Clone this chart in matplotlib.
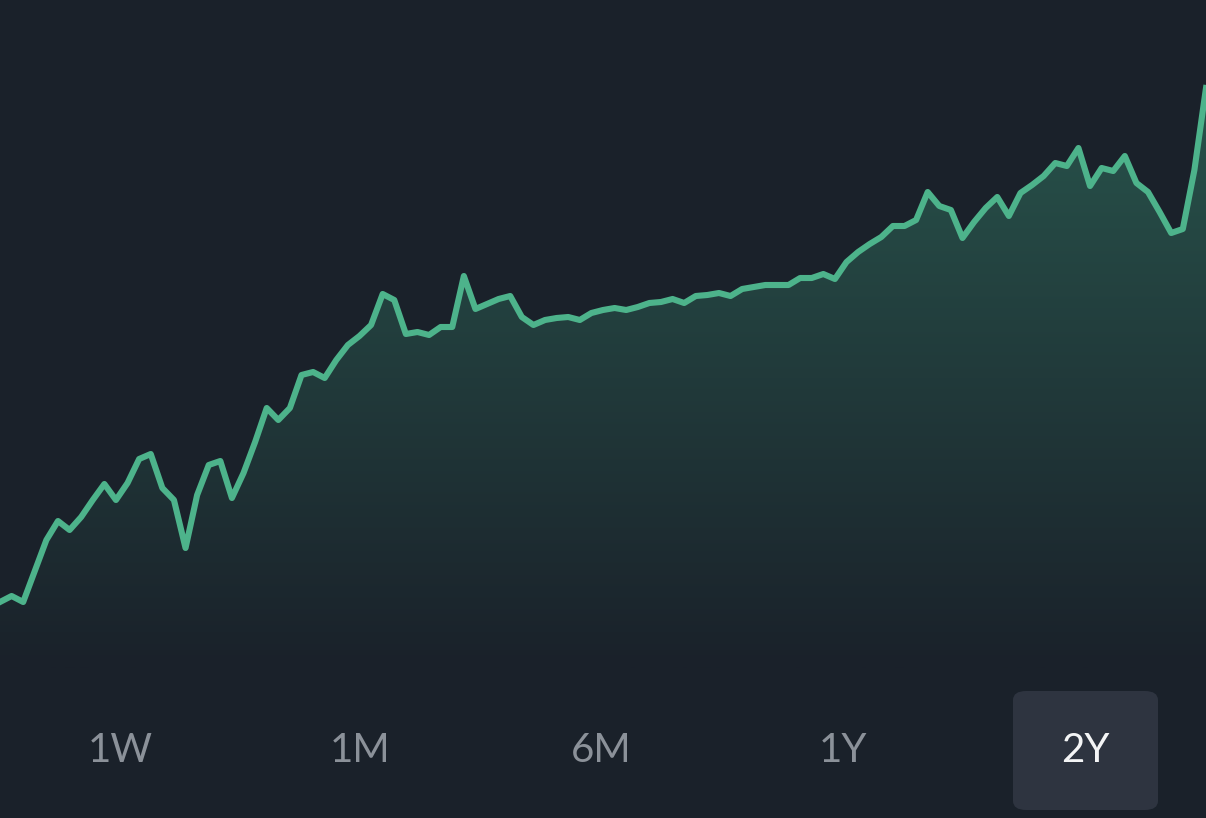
import numpy as np
import matplotlib
matplotlib.use("Agg")
from matplotlib import pyplot as plt
from matplotlib.colors import LinearSegmentedColormap, to_rgb
from matplotlib.patches import FancyBboxPatch

# price history (2Y)
prices = [216, 222, 216, 247, 278, 297, 288, 301, 318, 334,
          318, 335, 359, 364, 330, 318, 270, 323, 353, 357,
          320, 345, 376, 410, 398, 410, 443, 446, 440, 458,
          473, 482, 493, 524, 518, 484, 486, 483, 491, 491,
          542, 509, 514, 519, 522, 501, 493, 498, 500, 501,
          498, 505, 508, 510, 508, 511, 515, 516, 519, 515,
          522, 523, 525, 522, 529, 531, 533, 533, 533, 540,
          540, 544, 539, 556, 566, 574, 581, 592, 592, 598,
          626, 612, 608, 580, 596, 610, 621, 602, 625, 633,
          642, 655, 652, 670, 632, 650, 647, 662, 635, 626,
          606, 585, 589, 648, 730]
ranges = ["1W", "1M", "6M", "1Y", "2Y"]
active = "2Y"

bg = "#1a212a"
green = "#4db38b"
fill_top = "#28534b"

W, H = 1206, 818
fig = plt.figure(figsize=(W / 100, H / 100), dpi=100, facecolor=bg)
ax = fig.add_axes([0, 0, 1, 1], facecolor=bg)

x = np.arange(len(prices))
ax.set_xlim(0, len(prices) - 1)
ax.set_ylim(0, H)

# gradient under the line
poly = ax.fill_between(x, prices, 0, color="none", lw=0)
c0 = np.array(to_rgb(bg))
c1 = np.array(to_rgb(fill_top))
cmap = LinearSegmentedColormap.from_list("g", [c0, c1])
grad = np.linspace(0, 1, 256).reshape(-1, 1)
img = ax.imshow(grad, extent=[0, len(prices) - 1, 150, max(prices)], origin="lower",
                aspect="auto", cmap=cmap, zorder=1)
img.set_clip_path(poly.get_paths()[0], transform=ax.transData)

ax.plot(x, prices, color=green, lw=4.4, solid_joinstyle="round", zorder=3)
ax.axis("off")

# range selector
centers = [120, 360, 601, 843, 1085]
for lab, cx in zip(ranges, centers):
    if lab == active:
        box = FancyBboxPatch((1013 / W, (H - 810) / H), 145 / W, 119 / H,
                             boxstyle="round,pad=0,rounding_size=0.011",
                             transform=fig.transFigure, facecolor="#2e3440",
                             edgecolor="none", zorder=4)
        fig.patches.append(box)
    fig.text(cx / W, (H - 751) / H, lab, ha="center", va="center",
             fontsize=29, family=["Lato", "DejaVu Sans"], fontweight="normal",
             color="#f4f5f6" if lab == active else "#8b9199", zorder=5)

fig.savefig("out.png", dpi=100, facecolor=bg)
